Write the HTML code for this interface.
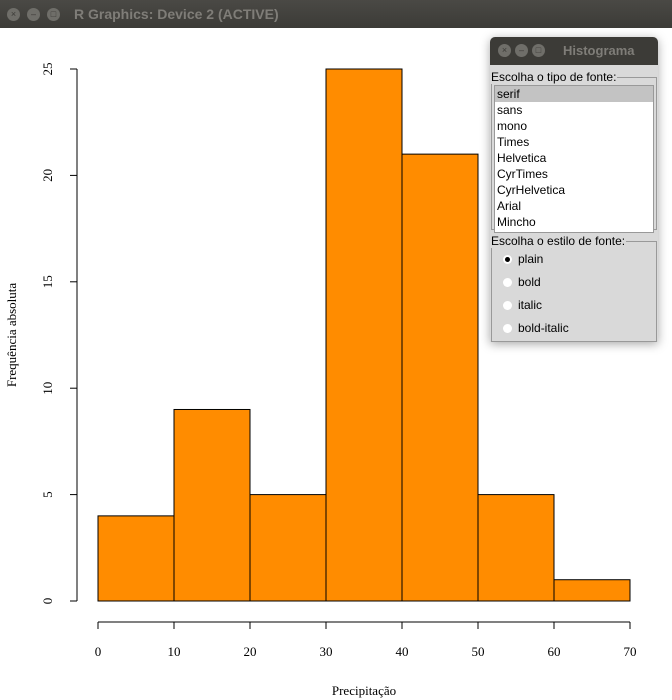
<!DOCTYPE html>
<html><head><meta charset="utf-8"><style>
body{margin:0;width:672px;height:700px;overflow:hidden;background:#fff;font-family:"Liberation Sans",sans-serif;position:relative}
#tb{position:absolute;left:0;top:0;width:672px;height:28px;background:linear-gradient(#4a4945,#3c3b37);}
.btn{position:absolute;top:8px;width:13px;height:13px;border-radius:50%;background:#6f6e69;font-size:9px;line-height:13px;text-align:center;color:#3c3b37}
#title{position:absolute;left:74px;top:6px;font-size:14px;font-weight:bold;color:#7f7d78}
#pop{position:absolute;left:490px;top:37px;width:168px;height:305px;background:#d9d9d9;box-shadow:0 2px 10px rgba(0,0,0,.35);border-radius:5px 5px 0 0}
#ptb{position:absolute;left:0;top:0;width:168px;height:28px;background:#3c3b37;border-radius:5px 5px 0 0}
#ptitle{position:absolute;left:73px;top:6px;font-size:13px;font-weight:bold;color:#7f7d78}
fieldset{position:absolute;margin:0;padding:0;border:1px solid #999;font-size:12px}
legend{font-size:12px;padding:0 1px;margin-left:-2px}
.item{height:16px;line-height:16px;font-size:12px;padding-left:2px}
.rad{height:23px;line-height:23px;font-size:12px;padding-left:11px}
.rad span{display:inline-block;width:9px;height:9px;border-radius:50%;background:#fff;margin-right:6px;vertical-align:-1px;position:relative}
</style></head><body>
<div id="tb">
<div class="btn" style="left:7px">×</div>
<div class="btn" style="left:27px">–</div>
<div class="btn" style="left:47px">□</div>
<div id="title">R Graphics: Device 2 (ACTIVE)</div>
</div>
<svg id="chart" width="672" height="672" style="position:absolute;left:0;top:28px">
<g id="g" transform="translate(0,-28)" font-family="Liberation Serif,serif" font-size="13"></g>
</svg>
<div id="pop">
<div id="ptb">
<div class="btn" style="left:8px;top:7px">×</div>
<div class="btn" style="left:25px;top:7px">–</div>
<div class="btn" style="left:42px;top:7px">□</div>
<div id="ptitle">Histograma</div>
</div>
<fieldset style="left:1px;top:33px;width:164px;height:158px">
<legend>Escolha o tipo de fonte:</legend>
<div style="margin:1px 2px;background:#fff;border:1px solid #999;height:146px">
<div class="item" style="background:#c3c3c3">serif</div>
<div class="item">sans</div>
<div class="item">mono</div>
<div class="item">Times</div>
<div class="item">Helvetica</div>
<div class="item">CyrTimes</div>
<div class="item">CyrHelvetica</div>
<div class="item">Arial</div>
<div class="item">Mincho</div>
</div></fieldset>
<fieldset style="left:1px;top:197px;width:164px;height:106px">
<legend>Escolha o estilo de fonte:</legend>
<div class="rad"><span><b style="position:absolute;left:2px;top:2px;width:5px;height:5px;border-radius:50%;background:#000"></b></span>plain</div>
<div class="rad"><span></span>bold</div>
<div class="rad"><span></span>italic</div>
<div class="rad"><span></span>bold-italic</div>
</fieldset>
</div>
<script>
const breaks=[0,10,20,30,40,50,60,70];
const counts=[4,9,5,25,21,5,1];
const xTicks=[0,10,20,30,40,50,60,70];
const yTicks=[0,5,10,15,20,25];
const NS="http://www.w3.org/2000/svg";
const g=document.getElementById('g');
const X=v=>98+v*7.6, Y=v=>601-v*21.28;
function mk(t,a){const e=document.createElementNS(NS,t);for(const k in a)e.setAttribute(k,a[k]);g.appendChild(e);return e;}
counts.forEach((c,i)=>{const r=mk('rect',{x:X(breaks[i]),y:Y(c),width:X(breaks[i+1])-X(breaks[i]),height:Y(0)-Y(c),fill:'#ff8c00',stroke:'#000','stroke-width':1});

});
const xa=mk('line',{x1:X(xTicks[0]),x2:X(xTicks[xTicks.length-1]),y1:622,y2:622,stroke:'#000'});


xTicks.forEach(t=>{mk('line',{x1:X(t),x2:X(t),y1:622,y2:629,stroke:'#000'});
const l=mk('text',{x:X(t),y:656,'text-anchor':'middle'});l.textContent=t;

});
const ya=mk('line',{x1:77,x2:77,y1:Y(yTicks[0]),y2:Y(yTicks[yTicks.length-1]),stroke:'#000'});


yTicks.forEach(t=>{mk('line',{x1:70,x2:77,y1:Y(t),y2:Y(t),stroke:'#000'});
const l=mk('text',{x:52,y:Y(t),'text-anchor':'middle',transform:`rotate(-90 52 ${Y(t)})`,dy:'0'});l.textContent=t;

});
const xt=mk('text',{x:364,y:695,'text-anchor':'middle'});xt.textContent='Precipitação';


const yt=mk('text',{x:16,y:335,'text-anchor':'middle',transform:'rotate(-90 16 335)'});yt.textContent='Frequência absoluta';


</script>
</body></html>
